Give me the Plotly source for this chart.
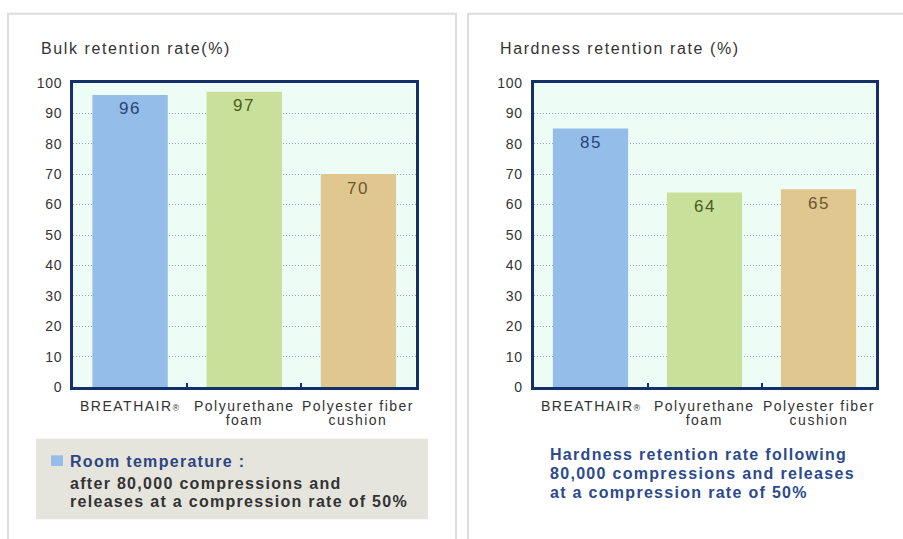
import plotly.graph_objects as go

W, H = 903, 539

categories = ["BREATHAIR", "Polyurethane foam", "Polyester fiber cushion"]
category_lines = [["BREATHAIR"], ["Polyurethane", "foam"], ["Polyester fiber", "cushion"]]
bulk_values = [96, 97, 70]
hardness_values = [85, 64, 65]
bar_colors = ["#94bde9", "#c9e09b", "#e0c68f"]
label_colors = ["#2a4578", "#4b5e22", "#6e5630"]
y_ticks = [0, 10, 20, 30, 40, 50, 60, 70, 80, 90, 100]

NAVY = "#14306a"
FONT = "Liberation Sans, Arial, Helvetica, sans-serif"


def px(x):
    return x / W


def py(y):
    return 1 - y / H


def sp(text, ls, size=None):
    style = f"letter-spacing:{ls}px"
    if size:
        style += f";font-size:{size}px"
    return f"<span style='{style}'>{text}</span>"


fig = go.Figure()

panels = [(bulk_values, "x", "y"), (hardness_values, "x2", "y2")]
for vals, xa, ya in panels:
    fig.add_trace(go.Bar(
        x=categories, y=vals, marker=dict(color=bar_colors, line=dict(width=0)),
        width=0.66, xaxis=xa, yaxis=ya, showlegend=False, hoverinfo="skip",
    ))
    for c, v, col in zip(categories, vals, label_colors):
        fig.add_annotation(
            x=c, y=v, xref=xa, yref=ya, text=sp(str(v), 1.5), showarrow=False,
            yanchor="middle", yshift=-14,
            font=dict(family=FONT, size=17, color=col),
        )
    for c, lines in zip(categories, category_lines):
        if len(lines) == 1:
            fig.add_annotation(
                x=c, y=py(410), xref=xa, yref="paper", showarrow=False,
                text=sp(lines[0], 1.5) + "<span style='font-size:9px'>®</span>",
                xanchor="center", yanchor="middle", borderpad=0,
                font=dict(family=FONT, size=14, color="#333333"),
            )
        else:
            # small base size gives tight leading; spans carry the real glyph size
            fig.add_annotation(
                x=c, y=py(417), xref=xa, yref="paper", showarrow=False,
                text="<br>".join(sp(ln, 1.5, 14) for ln in lines),
                xanchor="center", yanchor="middle", borderpad=0, align="center",
                font=dict(family=FONT, size=11, color="#333333"),
            )

axis_common_x = dict(
    type="category", showline=True, mirror=True, linecolor=NAVY, linewidth=2.5,
    ticks="inside", tickson="boundaries", ticklen=5, tickcolor=NAVY, tickwidth=1.5,
    showgrid=False, fixedrange=True, showticklabels=False,
)
axis_common_y = dict(
    range=[0, 100], tickvals=y_ticks, ticktext=[sp(str(t), 0.8) for t in y_ticks],
    showline=True, mirror=True, linecolor=NAVY,
    linewidth=2.5, ticks="", showgrid=True, gridcolor="#8ea3bf", griddash="1px,2px",
    gridwidth=1, zeroline=False, ticklabelstandoff=5, fixedrange=True,
    tickfont=dict(family=FONT, size=14, color="#333333"),
)

y_dom = [py(391), py(77)]
fig.update_layout(
    width=W, height=H, margin=dict(l=0, r=0, t=0, b=0),
    paper_bgcolor="white", plot_bgcolor="#edfcf5",
    xaxis=dict(domain=[px(73), px(415.5)], anchor="y", **axis_common_x),
    yaxis=dict(domain=y_dom, anchor="x", **axis_common_y),
    xaxis2=dict(domain=[px(533.5), px(875.5)], anchor="y2", **axis_common_x),
    yaxis2=dict(domain=y_dom, anchor="x2", **axis_common_y),
)

# panel outlines
fig.add_shape(type="rect", xref="paper", yref="paper", x0=px(8), x1=px(456), y0=-0.05, y1=py(6),
              line=dict(color="#dcdcdc", width=2), layer="below")
fig.add_shape(type="rect", xref="paper", yref="paper", x0=px(468), x1=1.05, y0=-0.05, y1=py(6),
              line=dict(color="#dcdcdc", width=2), layer="below")

title_font = dict(family=FONT, size=16, color="#333333")
fig.add_annotation(xref="paper", yref="paper", x=px(39), y=py(42), text=sp("Bulk retention rate(%)", 1.6),
                   showarrow=False, xanchor="left", yanchor="middle", font=title_font)
fig.add_annotation(xref="paper", yref="paper", x=px(498), y=py(42), text=sp("Hardness retention rate (%)", 1.6),
                   showarrow=False, xanchor="left", yanchor="middle", font=title_font)

# left note box
fig.add_shape(type="rect", xref="paper", yref="paper", x0=px(36), x1=px(428), y0=py(527), y1=py(444),
              fillcolor="#e5e4dd", line=dict(width=0), layer="below")
fig.add_shape(type="rect", xref="paper", yref="paper", x0=px(51), x1=px(63), y0=py(472), y1=py(461),
              fillcolor="#94bde9", line=dict(width=0))
note_font = dict(family=FONT, size=16, weight="bold")
fig.add_annotation(xref="paper", yref="paper", x=px(68), y=py(467), text=sp("Room temperature :", 1.3),
                   showarrow=False, xanchor="left", yanchor="middle",
                   font=dict(note_font, color="#2c4680"))
fig.add_annotation(xref="paper", yref="paper", x=px(68), y=py(490), text=sp("after 80,000 compressions and", 1.3),
                   showarrow=False, xanchor="left", yanchor="middle",
                   font=dict(note_font, color="#333333"))
fig.add_annotation(xref="paper", yref="paper", x=px(68), y=py(509),
                   text=sp("releases at a compression rate of 50%", 1.3),
                   showarrow=False, xanchor="left", yanchor="middle",
                   font=dict(note_font, color="#333333"))

# right note
for i, line in enumerate(["Hardness retention rate following",
                          "80,000 compressions and releases",
                          "at a compression rate of 50%"]):
    fig.add_annotation(xref="paper", yref="paper", x=px(548), y=py(460 + 19.5 * i), text=sp(line, 1.3),
                       showarrow=False, xanchor="left", yanchor="middle",
                       font=dict(note_font, color="#2c4a8c"))

fig.write_html(
    "out.html",
    config={"displayModeBar": False},
    post_script=(
        "document.documentElement.style.margin='0';"
        "document.body.style.margin='0';document.body.style.padding='0';"
        "document.body.style.overflow='hidden';"
        "var d=document.querySelector('.plotly-graph-div');"
        "d.style.position='fixed';d.style.top='0';d.style.left='0';"
    ),
)
